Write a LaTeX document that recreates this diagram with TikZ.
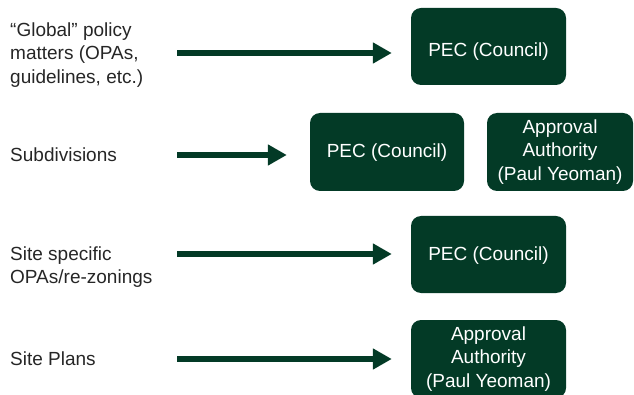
\documentclass[tikz,border=0pt]{standalone}
\usepackage{fontspec}
\setmainfont{Liberation Sans}
\usetikzlibrary{arrows.meta}
\definecolor{pecgreen}{HTML}{033A26}
\definecolor{labelgray}{HTML}{262626}
\begin{document}
\begin{tikzpicture}
    [%%%%%%%%%%%%%%%%%%%%%%%%%%%%%%
        x=1pt, y=-1pt,
        body/.style={font=\fontsize{19pt}{23.5pt}\selectfont},
        lbl/.style={body, anchor=west, align=left, inner sep=0pt, text=labelgray},
        box/.style={body, rectangle, rounded corners=10pt, fill=pecgreen, text=white,
                    align=center, minimum width=155pt, minimum height=77pt, inner sep=2pt},
        flow/.style={line width=5.5pt, draw=pecgreen, -{Triangle[length=19pt,width=20pt]}},
    ]%%%%%%%%%%%%%%%%%%%%%%%%%%%%%%

\useasboundingbox (0,0) rectangle (634,395);

% labels
\node[lbl] (global) at (10,55) {``Global'' policy\\matters (OPAs,\\guidelines, etc.)};
\node[lbl] (subdiv) at (10,155) {Subdivisions};
\node[lbl] (sitespec) at (10,267) {Site specific\\OPAs/re-zonings};
\node[lbl] (siteplan) at (10,359) {Site Plans};

% boxes
\node[box, text height=24pt, text depth=4pt] (pec1) at (488.5,46.5) {PEC (Council)};
\node[box, minimum width=154pt, minimum height=78pt, text height=16pt, text depth=4pt] (pec2) at (387,152) {PEC (Council)};
\node[box, minimum width=146pt, minimum height=78pt] (aa2) at (560,152) {Approval\\Authority\\(Paul Yeoman)};
\node[box, text height=16pt, text depth=4pt] (pec3) at (488.5,254.5) {PEC (Council)};
\node[box, minimum height=78pt] (aa4) at (488.5,359) {Approval\\Authority\\(Paul Yeoman)};

% arrows
\coordinate (s1) at (177,53);
\coordinate (s2) at (177,155);
\coordinate (s3) at (177,254);
\coordinate (s4) at (177,359);

\draw[flow, shorten >=19pt] (s1) -- (s1 -| pec1.west);
\draw[flow, shorten >=23pt] (s2) -- (s2 -| pec2.west);
\draw[flow, shorten >=19pt] (s3) -- (s3 -| pec3.west);
\draw[flow, shorten >=19pt] (s4) -- (s4 -| aa4.west);
\end{tikzpicture}
\end{document}
